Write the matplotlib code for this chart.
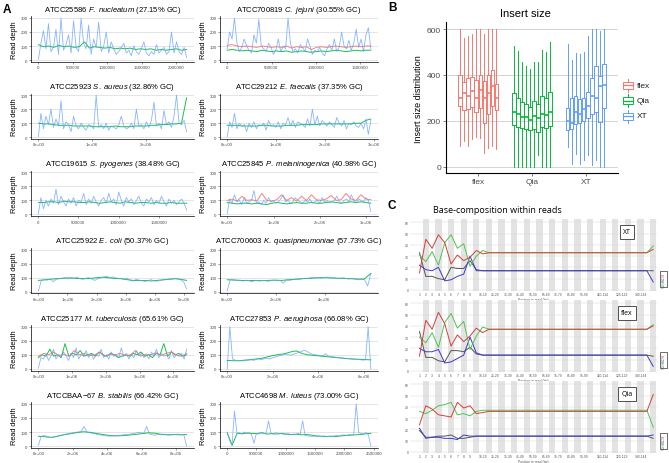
import numpy as np
import matplotlib
matplotlib.use("Agg")
import matplotlib.pyplot as plt
from matplotlib.patches import Rectangle

plt.rcParams['font.family'] = ['Liberation Sans', 'DejaVu Sans']
plt.rcParams['mathtext.fontset'] = 'custom'
plt.rcParams['mathtext.rm'] = 'Liberation Sans'
plt.rcParams['mathtext.it'] = 'Liberation Sans:italic'

W, H = 669, 464

# ---------- datos panel A (profundidad de lectura) ----------
fnuc_xt = [5,120,210,80,260,60,90,220,40,300,70,110,180,50,280,90,60,300,120,80,250,40,150,90,270,60,100,200,50,130,
           80,40,60,90,120,50,70,30,100,60,40,80,130,50,30,60,40,110,50,70,90,40,60,200,50,130,60,40,90,20]
fnuc_qia = [110,95,100,90,105,95,100,90,95,130,85,95,90,85,90,80,85,80,85,75,80,75,80,70,75,70,75,80,70,75]

cjej_xt = [80,200,150,300,120,60,90,150,100,70,50,180,120,290,100,80,60,120,90,40,70,150,60,100,80,300,120,60,80,50,
           110,90,60,150,100,40,70,60,90,50,30,80,110,70,150,60,90,200,100,80,140,70,120,220,90,150,60,180,230,80]
cjej_qia = [70,75,70,65,70,65,60,70,65,60,65,60,65,55,60,65,60,55,60,65,60,65,70,65,60,65,70,65,70,70]
cjej_flex = [105,110,100,95,100,95,90,100,95,90,95,90,100,85,95,90,95,75,90,95,90,95,100,95,90,95,100,95,100,100]

saur_xt = [5,170,60,150,90,200,70,130,80,260,60,110,90,40,150,80,60,100,70,50,90,80,60,300,70,90,60,100,50,80,
           70,60,90,150,80,60,70,100,60,200,80,90,60,110,70,120,250,80,100,60,190,90,110,70,150,300,100,90,120,40]
saur_qia = [100,95,95,90,85,85,85,80,80,80,80,75,75,75,75,80,75,75,75,80,80,80,85,85,90,90,95,95,100,280]

efae_xt = [5,110,70,170,60,100,80,90,40,100,70,110,60,90,80,100,50,120,80,90,70,110,60,100,90,140,80,120,70,110,
           100,90,70,130,80,200,90,150,80,120,100,80,110,90,70,140,100,80,120,60,100,90,110,80,70,100,60,130,20,120]
efae_qia = [85,85,85,80,80,80,80,85,85,80,80,80,85,85,85,90,90,90,90,95,95,95,95,95,95,95,100,100,120,130]

spyo_xt = [5,120,40,100,60,110,80,180,70,130,90,60,110,80,120,60,100,90,150,70,110,80,130,90,60,100,120,80,150,90,
           110,70,160,100,60,120,90,110,70,100,130,80,60,110,90,120,70,100,80,130,90,60,110,80,100,70,90,110,80,30]
spyo_qia = [85,85,90,90,85,95,90,90,85,85,90,85,80,85,90,85,80,90,85,80,85,85,80,85,80,80,85,80,80,80]

pmel_xt = [5,110,80,140,90,100,70,120,80,90,100,170,80,90,70,100,80,120,90,100,80,90,110,140,90,100,80,90,120,100,
           90,80,100,90,110,80,90,100,80,120,90,100,80,90,100,130,90,80,100,110,90,140,100,80,110,100,90,120,100,20]
pmel_qia = [85,80,75,80,80,75,80,75,70,80,85,80,75,80,85,80,80,85,80,80,85,90,85,80,85,90,85,90,85,80]
pmel_flex = [100,110,95,130,100,105,95,150,100,95,105,140,100,120,95,130,100,140,105,100,110,135,100,105,150,110,100,140,110,105]

ecol_xt = [5,80,85,82,90,70,88,92,95,98,90,100,95,102,92,88,96,100,90,80,92,98,104,110,100,105,98,95,92,90,
           96,80,75,88,82,78,72,80,85,78,74,80,84,86,90,88,95,92,85,70,20]
ecol_qia = [80,84,88,92,95,98,96,94,92,95,100,103,98,94,92,85,80,78,80,76,80,84,88,92,88,80]

kqua_xt = [5,88,85,82,80,75,82,78,70,80,76,78,80,74,78,82,76,80,60,84,80,86,90,85,95,92,95,100,98,102,
           96,100,104,98,100,95,92,98,94,90,96,88,84,92,86,40,130]
kqua_qia = [85,82,80,78,80,78,80,82,80,85,88,92,95,98,100,98,96,95,92,90,88,130]

mtub_xt = [5,80,70,110,60,90,140,70,100,80,120,90,60,110,80,150,70,100,90,130,80,110,70,100,90,140,80,100,70,120,
           90,100,80,150,90,110,70,100,80,130,90,110,80,100,70,120,90,140,80,110,90,100,70,130,80,100,90,110,70,140]
mtub_qia = [80,100,90,140,90,100,80,180,90,110,100,130,90,100,110,90,120,100,90,110,
            100,80,90,100,90,110,100,120,90,100,80,110,100,180,90,120,100,110,90,100]
mtub_flex = [90,110,100,120,95,105,90,130,100,110,95,100,120,90,105,100,110,95,100,130,90,105,100,115,95,110,120,100,90,110]

paer_xt = [0,300,70,62,60,58,56,60,62,65,60,68,70,66,72,74,70,78,85,90,95,100,105,100,98,105,110,118,125,132,
           125,112,105,100,98,95,92,108,90,88,85,82,80,78,76,74,72,70,68,66,65,62,64,300,0]
paer_qia = [60,58,57,62,65,70,75,85,95,102,108,120,128,110,100,96,92,88,84,80,76,72,70,68,66,64]

bsta_xt = [5,70,75,68,62,60,66,72,78,82,86,90,94,98,100,104,140,98,95,90,86,82,78,74,72,70,72,74,76,78,
           80,82,84,88,92,96,94,92,140,85,80,78,82,80,84,82,78,80,82,85,80,82,0]
bsta_qia = [70,66,62,70,80,88,96,102,98,90,82,76,72,74,78,82,88,94,92,84,80,82,80,82]

mlut_xt = [100,40,5,250,90,95,85,100,90,95,80,20,90,85,95,88,92,180,90,85,95,88,90,85,80,88,82,85,80,90,
           85,180,75,72,70,68,72,66,70,68,72,65,70,68,72,75,70,78,80,75,82,78,85,300,95,90,85,95,80,0]
mlut_qia = [95,5,90,88,92,90,88,95,85,88,86,90,85,82,84,80,82,78,72,70,68,70,68,72,75,78,80,82,88,90]

ticks_05 = [0, 500000, 1000000, 1500000, 2000000, 2500000]
labels_05 = ["0", "500000", "1000000", "1500000", "2000000", "2500000"]
ticks_1e6 = [0, 1e6, 2e6, 3e6, 4e6, 5e6]
labels_1e6 = ["0e+00", "1e+06", "2e+06", "3e+06", "4e+06", "5e+06"]
ticks_2e6 = [0, 2e6, 4e6, 6e6, 8e6]
labels_2e6 = ["0e+00", "2e+06", "4e+06", "6e+06", "8e+06"]

# (id, especie, GC, longitud genoma, ticks, etiquetas, XT, Qia, flex)
paneles = [
    ("ATCC25586", "F.\\ nucleatum", "27.15", 2.15e6, ticks_05[:5], labels_05[:5], fnuc_xt, fnuc_qia, None),
    ("ATCC700819", "C.\\ jejuni", "30.55", 1.62e6, ticks_05[:4], labels_05[:4], cjej_xt, cjej_qia, cjej_flex),
    ("ATCC25923", "S.\\ aureus", "32.86", 2.76e6, ticks_1e6[:3], labels_1e6[:3], saur_xt, saur_qia, None),
    ("ATCC29212", "E.\\ faecalis", "37.35", 2.93e6, ticks_1e6[:4], labels_1e6[:4], efae_xt, efae_qia, None),
    ("ATCC19615", "S.\\ pyogenes", "38.48", 1.85e6, ticks_05[:4], labels_05[:4], spyo_xt, spyo_qia, None),
    ("ATCC25845", "P.\\ melaninogenica", "40.98", 3.1e6, ticks_1e6[:4], labels_1e6[:4], pmel_xt, pmel_qia, pmel_flex),
    ("ATCC25922", "E.\\ coli", "50.37", 5.1e6, ticks_1e6, labels_1e6, ecol_xt, ecol_qia, None),
    ("ATCC700603", "K.\\ quasipneumoniae", "57.73", 5.9e6, ticks_2e6[:3], labels_2e6[:3], kqua_xt, kqua_qia, None),
    ("ATCC25177", "M.\\ tuberculosis", "65.61", 4.39e6, ticks_1e6[:5], labels_1e6[:5], mtub_xt, mtub_qia, mtub_flex),
    ("ATCC27853", "P.\\ aeruginosa", "66.08", 6.3e6, ticks_2e6[:4], labels_2e6[:4], paer_xt, paer_qia, None),
    ("ATCCBAA\u221267", "B.\\ stabilis", "66.42", 8.6e6, ticks_2e6, labels_2e6, bsta_xt, bsta_qia, None),
    ("ATCC4698", "M.\\ luteus", "73.00", 2.45e6, ticks_05, labels_05, mlut_xt, mlut_qia, None),
]

# ---------- datos panel B (tamaño de inserto, 10 muestras por kit) ----------
kits = ["flex", "Qia", "XT"]
flex_med = [300, 320, 310, 330, 300, 335, 300, 320, 350, 300]
flex_q1 = [265, 245, 250, 260, 240, 255, 190, 230, 265, 245]
flex_q3 = [400, 370, 385, 390, 380, 400, 375, 400, 420, 360]
flex_lo = [90, 110, 90, 120, 130, 125, 60, 80, 90, 75]
flex_hi = [600, 560, 570, 580, 600, 600, 580, 600, 600, 600]
qia_med = [240, 230, 215, 215, 205, 220, 210, 230, 225, 240]
qia_q1 = [180, 175, 170, 165, 160, 165, 150, 175, 170, 178]
qia_q3 = [320, 300, 280, 275, 260, 285, 275, 310, 300, 325]
qia_lo = [0, 0, 0, 0, 0, 0, 50, 0, 0, 0]
qia_hi = [525, 505, 455, 440, 425, 455, 455, 510, 500, 545]
xt_med = [200, 190, 240, 230, 250, 265, 310, 300, 350, 355]
xt_q1 = [160, 165, 185, 190, 200, 210, 230, 240, 195, 255]
xt_q3 = [255, 300, 310, 295, 300, 325, 385, 440, 395, 450]
xt_lo = [85, 10, 55, 10, 30, 50, 5, 30, 0, 0]
xt_hi = [535, 465, 495, 490, 500, 570, 600, 600, 590, 600]

# ---------- datos panel C (composición de bases por posición) ----------
c_tick_labels = ["1", "2", "3", "4", "5", "6", "7", "8", "9", "15-19", "25-29", "35-39", "45-49", "55-59",
                 "65-69", "75-79", "85-89", "95-99", "110-114", "125-129", "140-144"]
c_tick_idx = [0, 1, 2, 3, 4, 5, 6, 7, 8, 10, 12, 14, 16, 18, 20, 22, 24, 26, 29, 32, 35]

xt_T = [15,45,37,49,42,23,31,26,29,35,32,33,33,33,33,33,33,33,33,33,33,33,33,33,33,33,33,33,33,33,33,33,33,33,33,33,33,36]
xt_C = [22,18,17,20,8,9,12,14,30,17,17,17,17,17,17,17,17,17,17,17,17,17,17,17,17,17,17,17,17,17,17,17,17,17,17,17,17,7]
xt_A = [31,25,34,22,42,49,37,41,21,30,35,33,33,33,33,33,33,33,33,33,33,33,33,33,33,33,33,33,33,33,33,33,33,33,33,33,33,39]
xt_G = [33,12,12,10,9,20,19,19,26,18,17,17,17,17,17,17,17,17,17,17,17,17,17,17,17,17,17,17,17,17,17,17,17,17,17,17,17,17]

flex_T = [13,45,37,52,42,22,32,26,31,38,34,37,37,37,37,37,37,37,37,37,37,37,37,37,37,37,37,37,37,37,37,37,37,37,37,37,37,40]
flex_C = [20,17,17,19,7,8,11,14,30,16,14,14,14,14,14,14,14,14,14,14,14,14,14,14,14,14,14,14,14,14,14,14,14,14,14,14,14,4]
flex_A = [30,25,34,21,43,51,38,44,19,31,39,37,37,37,37,37,37,37,37,37,37,37,37,37,37,37,37,37,37,37,37,37,37,37,37,37,37,41]
flex_G = [35,12,12,9,8,18,18,17,21,15,14,14,14,14,14,14,14,14,14,14,14,14,14,14,14,14,14,14,14,14,14,14,14,14,14,14,14,13]

qia_T = [24,41,38,33,32,31,44,39,41,34,35,36,36,36,36,36,36,36,36,36,36,36,36,36,36,36,36,36,36,36,36,36,36,36,36,36,36,51]
qia_C = [21,12,13,13,12,12,11,15,14,14,14,14,14,14,14,14,14,14,14,14,14,14,14,14,14,14,14,14,14,14,14,14,14,14,14,14,14,15]
qia_A = [36,34,37,41,42,44,33,34,32,36,37,37,37,37,37,37,37,37,37,37,37,37,37,37,37,37,37,37,37,37,37,37,37,37,37,37,37,22]
qia_G = [19,13,13,14,14,15,12,12,13,14,14,14,14,14,14,14,14,14,14,14,14,14,14,14,14,14,14,14,14,14,14,14,14,14,14,14,14,12]

col_xt, col_qia, col_flex = "#619CFF", "#00BA38", "#F8766D"
gris = "#4d4d4d"

fig = plt.figure(figsize=(W / 100, H / 100), dpi=100)


def ejes(x, y, w, h):
    return fig.add_axes([x / W, 1 - (y + h) / H, w / W, h / H])


# ---------- A ----------
for i, (sid, esp, gc, L, tks, tlabs, s_xt, s_qia, s_flex) in enumerate(paneles):
    fila, colm = i // 2, i % 2
    x0, w = (31, 163) if colm == 0 else (220, 158)
    y0 = 17.3 + 77.2 * fila
    ax = ejes(x0, y0, w, 45.4)
    ax.plot(np.linspace(0, L, len(s_qia)), s_qia, color=col_qia, lw=0.7, alpha=0.9)
    if s_flex is not None:
        ax.plot(np.linspace(0, L, len(s_flex)), s_flex, color=col_flex, lw=0.7, alpha=0.9)
    ax.plot(np.linspace(0, L, len(s_xt)), s_xt, color=col_xt, lw=0.6, alpha=0.75)
    ax.set_xlim(-0.05 * L, 1.05 * L)
    ax.set_ylim(-12, 312)
    ax.set_yticks([0, 100, 200, 300])
    ax.set_xticks(tks)
    ax.set_xticklabels(tlabs)
    ax.tick_params(labelsize=3.2, colors=gris, length=1.5, width=0.4, pad=1)
    ax.grid(axis='y', color='#d9d9d9', lw=0.5)
    ax.set_axisbelow(True)
    for s in ['top', 'right']:
        ax.spines[s].set_visible(False)
    for s in ['left', 'bottom']:
        ax.spines[s].set_linewidth(0.5)
    ax.set_ylabel("Read depth", fontsize=5.3, labelpad=2)
    ax.text(0.5, 1.155, sid + " $\\mathit{" + esp + "}$ (" + gc + "% GC)",
            transform=ax.transAxes, ha='center', va='center', fontsize=5.5)

# ---------- B ----------
axb = ejes(446, 23.3, 172, 150.7)
grupos = [(flex_med, flex_q1, flex_q3, flex_lo, flex_hi, col_flex),
          (qia_med, qia_q1, qia_q3, qia_lo, qia_hi, col_qia),
          (xt_med, xt_q1, xt_q3, xt_lo, xt_hi, col_xt)]
for g, (med, q1, q3, lo, hi, c) in enumerate(grupos):
    stats = [dict(med=med[k], q1=q1[k], q3=q3[k], whislo=lo[k], whishi=hi[k], fliers=[])
             for k in range(len(med))]
    pos = [g + 1 + (k - 4.5) * 0.075 for k in range(len(med))]
    axb.bxp(stats, positions=pos, widths=0.065, showfliers=False, showcaps=False,
            boxprops=dict(color=c, lw=0.7), medianprops=dict(color=c, lw=1.2),
            whiskerprops=dict(color=c, lw=0.7))
axb.set_xlim(0.4, 3.6)
axb.set_ylim(-28, 630)
axb.set_xticks([1, 2, 3])
axb.set_xticklabels(kits)
axb.set_yticks([0, 200, 400, 600])
axb.tick_params(labelsize=6, colors=gris, length=2, width=0.5, pad=1.5)
axb.grid(axis='y', color='#cccccc', lw=0.6)
axb.set_axisbelow(True)
for s in ['top', 'right']:
    axb.spines[s].set_visible(False)
axb.set_ylabel("Insert size distribution", fontsize=6.5, labelpad=3)

# ---------- C ----------
sub_c = [("XT", 220, xt_T, xt_C, xt_A, xt_G),
         ("flex", 301, flex_T, flex_C, flex_A, flex_G),
         ("Qia", 382, qia_T, qia_C, qia_A, qia_G)]
c_cols = {"T": "#d43f3a", "C": "#3a3ac8", "A": "#4fc44f", "G": "#555555"}
for nombre, y0, sT, sC, sA, sG in sub_c:
    axc = ejes(410, y0, 247, 72)
    n = len(sT)
    for k in range(n):
        if k % 2 == 1:
            axc.axvspan(k - 0.5, k + 0.5, color='#e3e3e3', lw=0)
    for v in range(0, 70, 10):
        axc.axhline(v, color='#d0d0d0', lw=0.3)
    xs = np.arange(n)
    axc.plot(xs, sG, color=c_cols["G"], lw=0.7)
    axc.plot(xs, sC, color=c_cols["C"], lw=0.7)
    axc.plot(xs, sA, color=c_cols["A"], lw=0.7)
    axc.plot(xs, sT, color=c_cols["T"], lw=0.7)
    axc.set_xlim(-1.5, n - 0.4)
    axc.set_ylim(-1, 63)
    axc.set_yticks(range(0, 70, 10))
    axc.set_xticks(c_tick_idx)
    axc.set_xticklabels(c_tick_labels)
    axc.tick_params(labelsize=2.4, colors='#555555', length=0, pad=1)
    for s in axc.spines.values():
        s.set_visible(False)
    axc.set_xlabel("Position in read (bp)", fontsize=2.4, color='#555555', labelpad=0.5)

# ---------- textos en coordenadas de píxel ----------
ov = fig.add_axes([0, 0, 1, 1])
ov.set_xlim(0, W)
ov.set_ylim(H, 0)
ov.axis('off')

ov.text(3, 10, "A", fontsize=8.5, fontweight='bold', va='center')
ov.text(388, 8, "B", fontsize=8.5, fontweight='bold', va='center')
ov.text(388, 206, "C", fontsize=8.5, fontweight='bold', va='center')
ov.text(525, 14, "Insert size", fontsize=8, ha='center', va='center')
ov.text(497, 211, "Base-composition within reads", fontsize=6.5, ha='center', va='center',
        family=['Open Sans', 'DejaVu Sans'])

# leyenda B
for kit, yc, c in [("flex", 86, col_flex), ("Qia", 101.5, col_qia), ("XT", 117, col_xt)]:
    ov.add_patch(Rectangle((622.5, yc - 3.5), 10, 7, fill=False, edgecolor=c, lw=0.7))
    ov.plot([622.5, 632.5], [yc, yc], color=c, lw=0.9)
    ov.plot([627.5, 627.5], [yc - 6.5, yc - 3.5], color=c, lw=0.7)
    ov.plot([627.5, 627.5], [yc + 3.5, yc + 6.5], color=c, lw=0.7)
    ov.text(637, yc, kit, fontsize=6, va='center', color='#222222')

# etiquetas y leyendas de C
for nombre, y0 in [("XT", 220), ("flex", 301), ("Qia", 382)]:
    ov.text(627, y0 + 13, nombre, fontsize=5, ha='center', va='center',
            family=['Open Sans', 'DejaVu Sans'],
            bbox=dict(boxstyle='square,pad=0.5', facecolor='white', edgecolor='#333333', lw=0.6))
    ov.add_patch(Rectangle((660, y0 + 52), 7, 16, facecolor='white', edgecolor='#333333', lw=0.5))
    for j, (b, c) in enumerate([("T", "#d43f3a"), ("C", "#3a3ac8"), ("A", "#4fc44f"), ("G", "#555555")]):
        ov.text(663.5, y0 + 54.5 + j * 3.8, "%" + b, fontsize=2.2, rotation=90, color=c,
                ha='center', va='center')

fig.savefig("out.png", dpi=100)
